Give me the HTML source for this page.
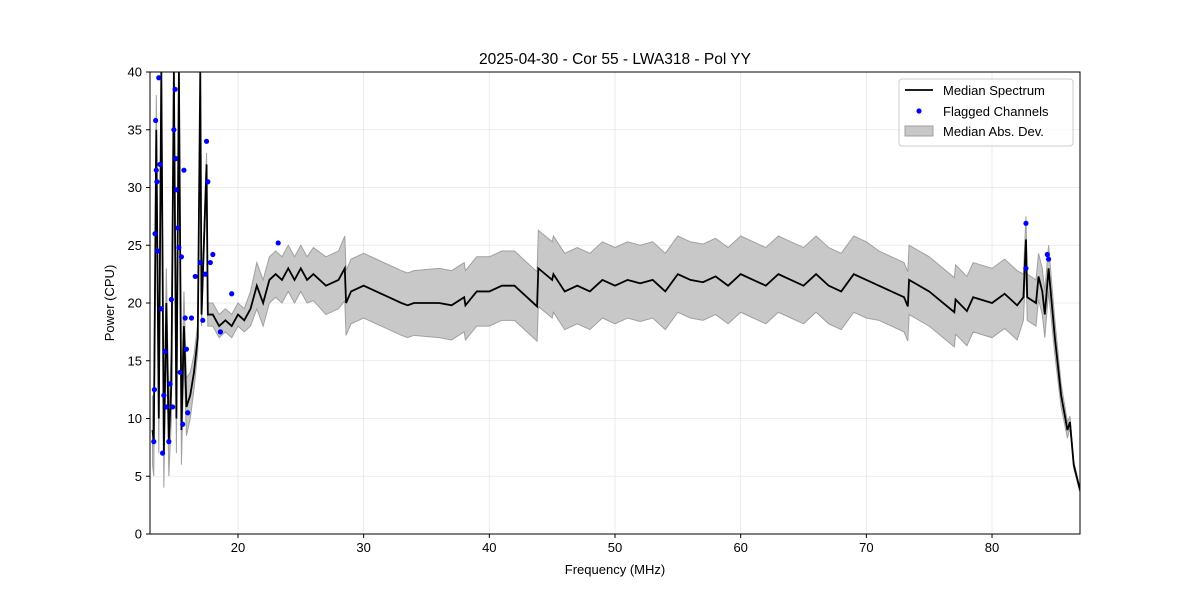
<!DOCTYPE html>
<html><head><meta charset="utf-8"><style>
body{margin:0;background:#fff;font-family:"Liberation Sans","DejaVu Sans",sans-serif}
</style></head><body>
<svg id="c" width="1200" height="600" xmlns="http://www.w3.org/2000/svg" font-family="Liberation Sans, DejaVu Sans, sans-serif"></svg>
<script>
const freqs=[13.2,13.3,13.5,13.7,13.9,14.1,14.3,14.5,14.7,14.9,
15.1,15.3,15.5,15.7,15.9,16.2,16.5,16.8,17.0,17.1,
17.5,17.6,18,18.5,19,19.5,20,20.5,21,21.5,
22,22.5,23,23.5,24,24.5,25,25.5,26,27,
28,28.5,28.6,29,30,31,32,33,33.5,34,
36,37,38,38.1,39,40,41,42,43,43.8,
43.9,45,45.1,46,47,48,49,50,51,52,
53,54,55,56,57,58,59,60,61,62,
63,64,65,66,67,68,69,70,71,73,
73.3,73.4,75,77,77.1,78,78.5,80,81,82,
82.5,82.7,82.8,83.5,83.7,84,84.2,84.5,85,85.5,
86,86.2,86.5,87];
const medians=[9,8,35,10,40,7,20,8,13,40,
10,40,9,18,11,12,14,17,40,19,
32,19,19,18,18.5,18,19,18.5,19.5,21.5,
20,22,22.5,22,23,22,23,22,22.5,21.5,
22,23,20,21,21.5,21,20.5,20,19.8,20,
20,19.8,20.5,19.8,21,21,21.5,21.5,20.5,19.7,
23,22,22.5,21,21.5,21,22,21.5,22,21.7,
22,21,22.5,22,21.8,22.3,21.5,22.5,22,21.5,
22.5,22,21.5,22.5,21.5,21,22.5,22,21.5,20.5,
19.7,22,21,19.2,20.3,19.3,20.5,20,20.8,19.8,
20.5,25.5,20.5,20,22.3,21,19,23,17,12,
9,9.7,6,3.8];
const mads=[3,3,3,3,3,3,3,3,3,3,
3,3,3,3,2.5,2,1.5,1.2,1,1,
1,1,1,1,1,1,1,1,1.5,2,
2,2,2,2,2,2,2,2,2.3,2.5,
2.5,2.8,2.8,2.8,2.8,2.8,2.8,2.8,2.8,2.8,
3,3,3,3,3,3,3,3,3,3,
3.3,3.3,3.3,3.3,3.3,3.3,3.3,3.3,3.3,3.3,
3.3,3.3,3.3,3.3,3.3,3.3,3.3,3.3,3.3,3.3,
3.3,3.3,3.3,3.3,3.3,3.3,3.3,3.3,3,3,
3,3,3,3,3,3,3,3,3,3,
2,2,2,2,2,2,2,2,1.5,1,
0.7,0.5,0.3,0.2];
const flagFreqs=[13.3,13.35,13.4,13.45,13.5,13.55,13.6,13.7,13.8,13.9,14.0,14.1,14.2,14.3,14.5,14.6,14.7,14.8,14.9,15.0,15.05,15.1,15.2,15.3,15.4,15.5,15.6,15.7,15.8,15.9,16.0,16.3,16.6,17.0,17.2,17.4,17.5,17.6,17.8,18.0,18.6,19.5,23.2,82.7,82.7,84.4,84.5];
const flagValues=[8,12.5,26,35.8,31.5,30.5,24.5,39.5,32,19.5,7,12,15.8,11,8,13,20.3,11,35,38.5,32.5,29.8,26.5,24.8,14,24,9.5,31.5,18.7,16,10.5,18.7,22.3,23.5,18.5,22.5,34,30.5,23.5,24.2,17.5,20.8,25.2,26.9,23,24.2,23.8];
const yTicks=[0,5,10,15,20,25,30,35,40];
const xTicks=[20,30,40,50,60,70,80];
const L=150,R=1080,T=72,B=534,X0=13,X1=87,Y0=0,Y1=40;
const sx=v=>L+(v-X0)/(X1-X0)*(R-L), sy=v=>B-(v-Y0)/(Y1-Y0)*(B-T);
const svg=document.getElementById('c');const NS='http://www.w3.org/2000/svg';
function mk(t,a,p){const e=document.createElementNS(NS,t);for(const k in a)e.setAttribute(k,a[k]);(p||svg).appendChild(e);return e;}
const clip=mk('clipPath',{id:'cp'});mk('rect',{x:L,y:T,width:R-L,height:B-T},clip);
const grid=mk('g',{});
xTicks.forEach(v=>{mk('line',{x1:sx(v),x2:sx(v),y1:T,y2:B,stroke:'#e6e6e6','stroke-width':0.8},grid);
 mk('line',{x1:sx(v),x2:sx(v),y1:B,y2:B+4,stroke:'#000'});
 const t=mk('text',{x:sx(v),y:B+18,'text-anchor':'middle','font-size':13});t.textContent=v;
 });
yTicks.forEach(v=>{mk('line',{x1:L,x2:R,y1:sy(v),y2:sy(v),stroke:'#e6e6e6','stroke-width':0.8},grid);
 mk('line',{x1:L-4,x2:L,y1:sy(v),y2:sy(v),stroke:'#000'});
 const t=mk('text',{x:L-8,y:sy(v)+4.5,'text-anchor':'end','font-size':13});t.textContent=v;
 });
const g=mk('g',{'clip-path':'url(#cp)'});
const n=Math.min(freqs.length,medians.length,mads.length);
const idx=[...Array(n).keys()];
let up=idx.map(i=>sx(freqs[i])+','+sy(medians[i]+mads[i]));
let dn=idx.map(i=>sx(freqs[i])+','+sy(medians[i]-mads[i])).reverse();
const band=mk('polygon',{points:up.concat(dn).join(' '),fill:'#c8c8c8',stroke:'#a0a0a0','stroke-width':1},g);

const line=mk('polyline',{points:idx.map(i=>sx(freqs[i])+','+sy(medians[i])).join(' '),fill:'none',stroke:'#000','stroke-width':1.8},g);

flagFreqs.forEach((f,i)=>{const c=mk('circle',{cx:sx(f),cy:sy(flagValues[i]),r:2.6,fill:'#0000ff'},g);
 });
const fr=mk('rect',{x:L,y:T,width:R-L,height:B-T,fill:'none',stroke:'#000','stroke-width':1});

let t=mk('text',{x:615,y:64,'text-anchor':'middle','font-size':15.5});t.textContent='2025-04-30 - Cor 55 - LWA318 - Pol YY';

t=mk('text',{x:615,y:574,'text-anchor':'middle','font-size':13});t.textContent='Frequency (MHz)';

t=mk('text',{x:114,y:303,'text-anchor':'middle','font-size':13,transform:'rotate(-90 114 303)'});t.textContent='Power (CPU)';

const lg=mk('g',{});
mk('rect',{x:899,y:79,width:174,height:67,rx:3,fill:'#fff','fill-opacity':0.8,stroke:'#ccc'},lg);
mk('line',{x1:905,x2:933,y1:90,y2:90,stroke:'#000','stroke-width':1.8},lg);
mk('circle',{cx:919,cy:111,r:2.6,fill:'#0000ff'},lg);
mk('rect',{x:905,y:126,width:28,height:10,fill:'#c8c8c8',stroke:'#a0a0a0'},lg);
[['Median Spectrum',95],['Flagged Channels',116],['Median Abs. Dev.',136]].forEach(([s,y])=>{
 const e=mk('text',{x:943,y:y,'font-size':13},lg);e.textContent=s;
 });
</script></body></html>
